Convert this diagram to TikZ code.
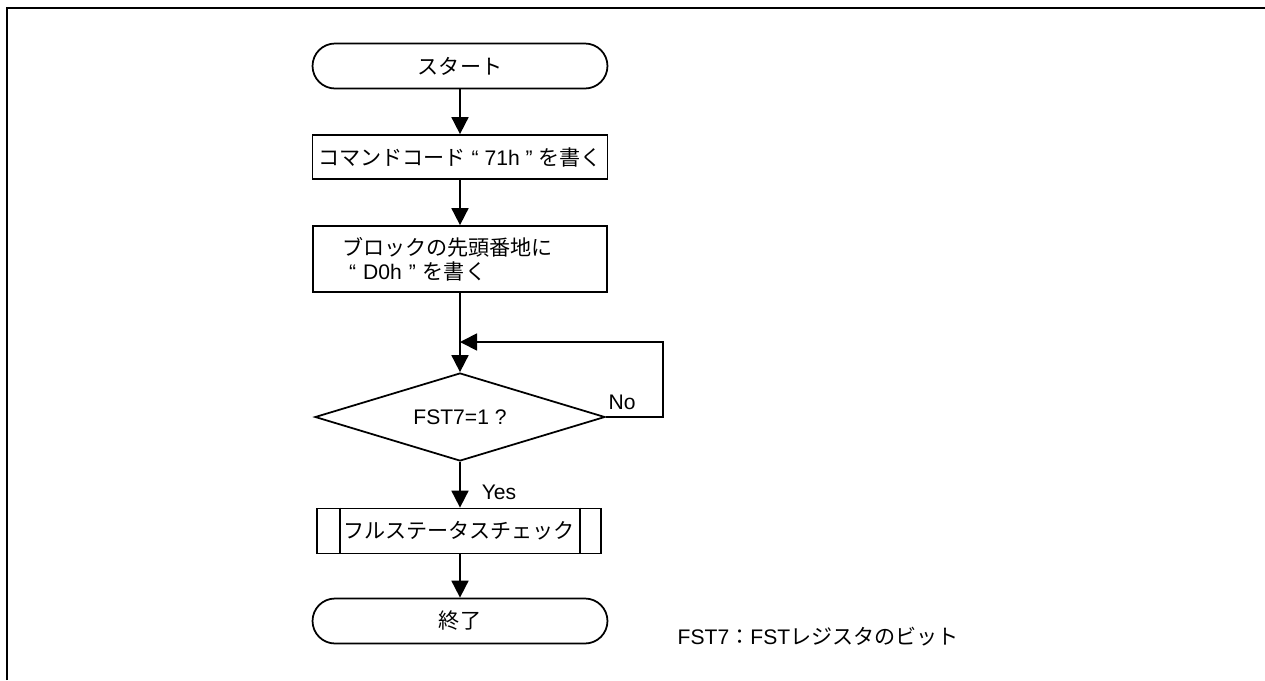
\documentclass[tikz,border=0pt]{standalone}
\usepackage{fontspec}
\setmainfont{Liberation Sans}
\newfontfamily\jpfont{Noto Sans CJK JP}
\usetikzlibrary{arrows.meta,shapes.geometric}

\begin{document}
\begin{tikzpicture}[x=0.02cm, y=-0.02cm, font=\fontsize{12}{13.6}\selectfont, line width=1pt,
		arr/.style={-{Triangle[length=0.34cm,width=0.34cm]}},
		term/.style={draw, rounded corners=0.45cm, minimum width=5.9cm, minimum height=0.9cm},
		proc/.style={draw, minimum width=5.88cm, minimum height=0.88cm},
		decision/.style={draw, diamond, aspect=3.2, minimum width=5.8cm, minimum height=1.76cm, inner sep=0pt},
		subr/.style={draw, minimum width=5.68cm, minimum height=0.9cm}]
		\useasboundingbox (0,0) rectangle (1265,680);
		\draw[line width=1.7pt] (7,680) -- (7,8) -- (1265,8);

		\node[term] (start) at (460,66) {\jpfont スタート};
		\node[proc] (cmd) at (460,157) {{\jpfont コマンドコード} “ 71h ” {\jpfont を書く}};
		\node[proc, minimum height=1.32cm, inner xsep=0.58cm, text width=4.72cm, align=left] (blk) at (460,259)
			{{\jpfont ブロックの先頭番地に}\\\ “ D0h ” {\jpfont を書く}};
		\node[decision] (chk) at (460,417) {FST7=1 ?};
		\node[subr] (full) at (459,531) {\jpfont フルステータスチェック};
		\draw ([xshift=0.48cm]full.north west) -- ([xshift=0.48cm]full.south west);
		\draw ([xshift=-0.44cm]full.north east) -- ([xshift=-0.44cm]full.south east);
		\node[term] (end) at (460,621) {\jpfont 終了};

		\coordinate (back) at (460,342);
		\draw[arr] (start) -- (cmd);
		\draw[arr] (cmd) -- (blk);
		\draw[arr] (blk) -- (chk);
		\draw[arr] (chk.east) -- ++(57,0) |- (back);
		\draw[arr] (chk) -- (chk |- full.north);
		\draw[arr] (full.south -| end) -- (end);

		\node (no) at (622,402) {No};
		\node (yes) at (499,492) {Yes};
		\node[anchor=west] (note) at (671,637) {FST7{\jpfont ：}FST{\jpfont レジスタのビット}};
	\end{tikzpicture}
\end{document}
